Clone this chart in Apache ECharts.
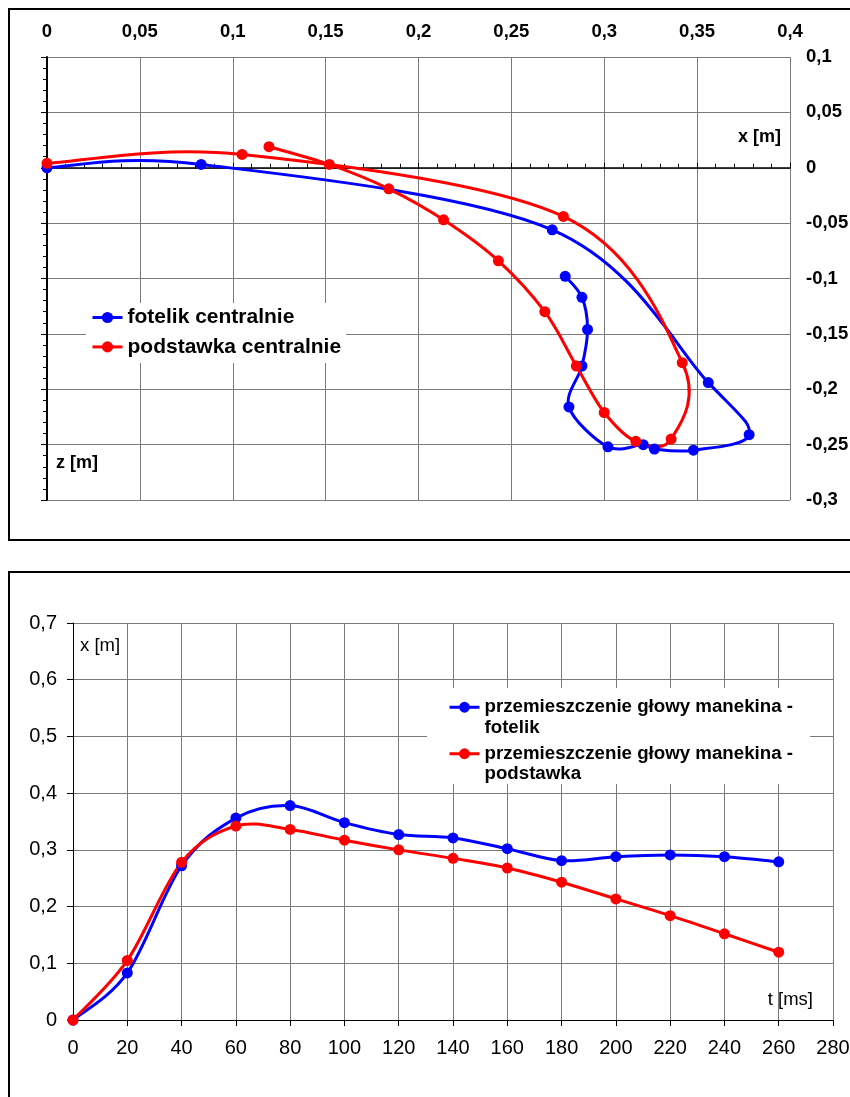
<!DOCTYPE html>
<html><head><meta charset="utf-8">
<script src="https://cdn.jsdelivr.net/npm/echarts@6/dist/echarts.min.js"></script>
<style>html,body{margin:0;padding:0;background:#fff}#c{width:850px;height:1097px}</style>
</head><body><div id="c"></div><script>
// ---- data ----
const timeMs = [0, 20, 40, 60, 80, 100, 120, 140, 160, 180, 200, 220, 240, 260];
// horizontal displacement x [m] of the dummy head
const fotelikX = [0, 0.083, 0.272, 0.356, 0.378, 0.348, 0.327, 0.321, 0.302, 0.281, 0.288, 0.291, 0.288, 0.279];
const podstawkaX = [0, 0.105, 0.278, 0.342, 0.336, 0.317, 0.300, 0.285, 0.268, 0.243, 0.2135, 0.184, 0.152, 0.1195];
// vertical displacement z [m]
const fotelikZ = [0, 0.003, -0.056, -0.194, -0.241, -0.255, -0.254, -0.250, -0.252, -0.216, -0.179, -0.146, -0.117, -0.098];
const podstawkaZ = [0.004, 0.012, -0.044, -0.176, -0.245, -0.247, -0.221, -0.179, -0.130, -0.084, -0.047, -0.019, 0.003, 0.019];
const nameTopA = 'fotelik centralnie';
const nameTopB = 'podstawka centralnie';
const nameBotA = 'przemieszczenie głowy manekina - fotelik';
const nameBotB = 'przemieszczenie głowy manekina - podstawka';

const FONT = '"Liberation Sans", Arial, sans-serif';
const BLUE = '#0000ff', RED = '#ff0000';
const fmt = v => String(Math.round(v * 100) / 100).replace('.', ',');
const gridLine = { show: true, lineStyle: { color: '#7a7a7a', width: 1 } };
const boldLbl = { color: '#000', fontSize: 18.5, fontWeight: 'bold', fontFamily: FONT };
const normLbl = { color: '#000', fontSize: 20, fontFamily: FONT };

// markers (and legend entry) through a line series whose own straight line is hidden
function markerSeries(name, xs, ys, color, xi, yi) {
  return {
    type: 'line', name, xAxisIndex: xi, yAxisIndex: yi,
    data: xs.map((x, i) => [x, ys[i]]),
    symbol: 'circle', symbolSize: 11, showAllSymbol: true,
    lineStyle: { color, width: 3, opacity: 0 }, itemStyle: { color },
    z: 4
  };
}
// spreadsheet-style smoothed curve (Catmull-Rom Bezier), coordinates from the axes
function curveSeries(xs, ys, color, xi, yi) {
  const n = xs.length;
  return {
    type: 'custom', xAxisIndex: xi, yAxisIndex: yi, z: 3, silent: true,
    data: xs.map((x, i) => [x, ys[i]]),
    encode: { x: 0, y: 1 },
    renderItem(params, api) {
      const i = params.dataIndex;
      if (i >= n - 1) return null;
      const p = j => { j = Math.max(0, Math.min(n - 1, j)); return api.coord([xs[j], ys[j]]); };
      const p0 = p(i - 1), p1 = p(i), p2 = p(i + 1), p3 = p(i + 2);
      return {
        type: 'bezierCurve',
        shape: {
          x1: p1[0], y1: p1[1], x2: p2[0], y2: p2[1],
          cpx1: p1[0] + (p2[0] - p0[0]) / 6, cpy1: p1[1] + (p2[1] - p0[1]) / 6,
          cpx2: p2[0] - (p3[0] - p1[0]) / 6, cpy2: p2[1] - (p3[1] - p1[1]) / 6
        },
        style: { stroke: color, lineWidth: 3, fill: null, lineCap: 'round' }
      };
    }
  };
}
const legendLine = { width: 3, opacity: 1, color: 'inherit' };

const chart = echarts.init(document.getElementById('c'));
chart.setOption({
  animation: false,
  backgroundColor: '#fff',
  grid: [
    { left: 47, top: 57, width: 743, height: 443, outerBoundsMode: 'none', containLabel: false },
    { left: 73, top: 623, width: 760, height: 397, outerBoundsMode: 'none', containLabel: false }
  ],
  xAxis: [
    { gridIndex: 0, type: 'value', position: 'top', min: 0, max: 0.4, interval: 0.05,
      axisLine: { show: false, onZero: false }, axisTick: { show: false },
      axisLabel: Object.assign({ margin: 16, formatter: fmt }, boldLbl), splitLine: gridLine },
    { gridIndex: 0, type: 'value', position: 'bottom', min: 0, max: 0.4, interval: 0.05,
      axisLine: { show: true, onZero: true, lineStyle: { color: '#000', width: 1.5 } },
      axisTick: { show: true, inside: true, length: 5, lineStyle: { color: '#000', width: 1 } },
      minorTick: { show: true, splitNumber: 5, length: 4, lineStyle: { color: '#000', width: 1 } },
      axisLabel: { show: false }, splitLine: { show: false } },
    { gridIndex: 1, type: 'value', position: 'bottom', min: 0, max: 280, interval: 20,
      axisLine: { show: true, onZero: false, lineStyle: { color: '#000', width: 1 } },
      axisTick: { show: true, length: 6, lineStyle: { color: '#000', width: 1 } },
      axisLabel: Object.assign({ margin: 18 }, normLbl), splitLine: gridLine }
  ],
  yAxis: [
    { gridIndex: 0, type: 'value', position: 'right', min: -0.3, max: 0.1, interval: 0.05,
      axisLine: { show: false, onZero: false }, axisTick: { show: false },
      axisLabel: Object.assign({ margin: 16, formatter: fmt }, boldLbl), splitLine: gridLine },
    { gridIndex: 0, type: 'value', position: 'left', min: -0.3, max: 0.1, interval: 0.05,
      axisLine: { show: true, onZero: false, lineStyle: { color: '#000', width: 2 } },
      axisTick: { show: true, length: 6, lineStyle: { color: '#000', width: 1 } },
      minorTick: { show: true, splitNumber: 5, length: 4, lineStyle: { color: '#000', width: 1 } },
      axisLabel: { show: false }, splitLine: { show: false } },
    { gridIndex: 1, type: 'value', position: 'left', min: 0, max: 0.7, interval: 0.1,
      axisLine: { show: true, onZero: false, lineStyle: { color: '#000', width: 1 } },
      axisTick: { show: true, length: 6, lineStyle: { color: '#000', width: 1 } },
      axisLabel: Object.assign({ margin: 16, formatter: fmt }, normLbl), splitLine: gridLine }
  ],
  legend: [
    { data: [nameTopA, nameTopB], orient: 'vertical', left: 91, top: 306.5, padding: 0,
      itemWidth: 30, itemHeight: 14, itemGap: 7.4, selectedMode: false,
      lineStyle: legendLine,
      textStyle: { fontFamily: FONT, fontSize: 21, fontWeight: 'bold', color: '#000', lineHeight: 22 } },
    { data: [nameBotA], orient: 'vertical', left: 448, top: 676.5, padding: 0,
      itemWidth: 30, itemHeight: 13.5, selectedMode: false, lineStyle: legendLine,
      formatter: n => '\n' + n.replace(' - ', ' -\n'),
      textStyle: { fontFamily: FONT, fontSize: 18.7, fontWeight: 'bold', color: '#000', lineHeight: 20.5 } },
    { data: [nameBotB], orient: 'vertical', left: 448, top: 723, padding: 0,
      itemWidth: 30, itemHeight: 13.5, selectedMode: false, lineStyle: legendLine,
      formatter: n => '\n' + n.replace(' - ', ' -\n'),
      textStyle: { fontFamily: FONT, fontSize: 18.7, fontWeight: 'bold', color: '#000', lineHeight: 20.5 } }
  ],
  graphic: [
    { type: 'rect', z: 1, shape: { x: 86, y: 303, width: 260, height: 60 }, style: { fill: '#fff' } },
    { type: 'rect', z: 1, shape: { x: 427, y: 688, width: 383, height: 96 }, style: { fill: '#fff' } },
    { type: 'rect', z: 10, shape: { x: 9, y: 9, width: 900, height: 531 }, style: { fill: 'none', stroke: '#000', lineWidth: 2 } },
    { type: 'rect', z: 10, shape: { x: 9, y: 572, width: 900, height: 600 }, style: { fill: 'none', stroke: '#000', lineWidth: 2 } },
    { type: 'text', z: 5, x: 781, y: 137, style: { text: 'x [m]', fontFamily: FONT, fontSize: 18, fontWeight: 'bold', fill: '#000', align: 'right', verticalAlign: 'middle' } },
    { type: 'text', z: 5, x: 56, y: 463, style: { text: 'z [m]', fontFamily: FONT, fontSize: 18, fontWeight: 'bold', fill: '#000', align: 'left', verticalAlign: 'middle' } },
    { type: 'text', z: 5, x: 80, y: 646, style: { text: 'x [m]', fontFamily: FONT, fontSize: 18.5, fill: '#000', align: 'left', verticalAlign: 'middle' } },
    { type: 'text', z: 5, x: 813, y: 1000, style: { text: 't [ms]', fontFamily: FONT, fontSize: 18.5, fill: '#000', align: 'right', verticalAlign: 'middle' } }
  ],
  series: [
    markerSeries(nameTopA, fotelikX, fotelikZ, BLUE, 0, 0),
    markerSeries(nameTopB, podstawkaX, podstawkaZ, RED, 0, 0),
    markerSeries(nameBotA, timeMs, fotelikX, BLUE, 2, 2),
    markerSeries(nameBotB, timeMs, podstawkaX, RED, 2, 2),
    curveSeries(fotelikX, fotelikZ, BLUE, 0, 0),
    curveSeries(podstawkaX, podstawkaZ, RED, 0, 0),
    curveSeries(timeMs, fotelikX, BLUE, 2, 2),
    curveSeries(timeMs, podstawkaX, RED, 2, 2)
  ]
});
</script></body></html>
